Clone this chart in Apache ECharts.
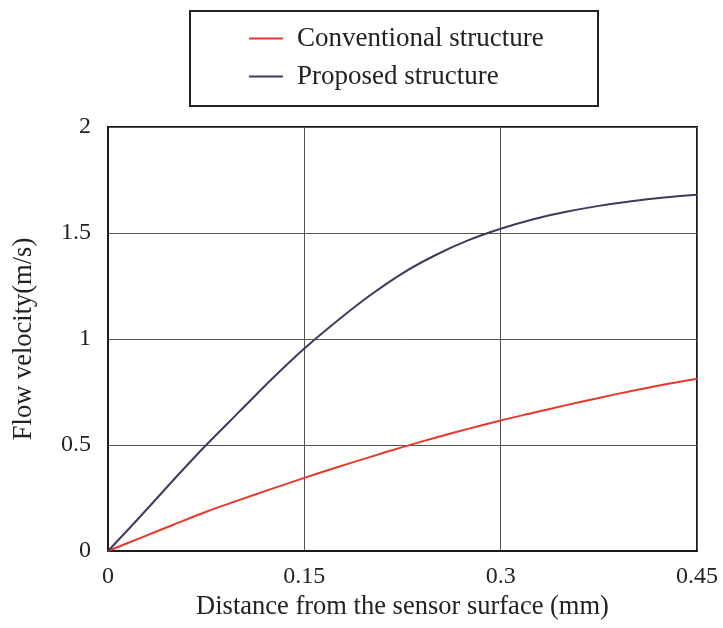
<!DOCTYPE html>
<html>
<head>
<meta charset="utf-8">
<script src="https://cdn.jsdelivr.net/npm/echarts@6/dist/echarts.min.js"></script>
<style>
html,body{margin:0;padding:0;background:#fff;}
#chart{width:723px;height:628px;}
</style>
</head>
<body>
<div id="chart"></div>
<script>
var distance = [0, 0.025, 0.05, 0.075, 0.1, 0.125, 0.15, 0.175, 0.2, 0.225, 0.25, 0.275, 0.3, 0.325, 0.35, 0.375, 0.4, 0.425, 0.45];
var conventional = [0, 0.062, 0.124, 0.185, 0.24, 0.293, 0.345, 0.395, 0.443, 0.49, 0.534, 0.576, 0.616, 0.652, 0.688, 0.722, 0.755, 0.785, 0.813];
var proposed = [0, 0.165, 0.335, 0.5, 0.655, 0.81, 0.955, 1.085, 1.205, 1.31, 1.395, 1.465, 1.52, 1.565, 1.6, 1.628, 1.65, 1.667, 1.68];
var seriesNames = ['Conventional structure', 'Proposed structure'];
var xTicks = [0, 0.15, 0.3, 0.45];
var yTicks = [0, 0.5, 1, 1.5, 2];
var xName = 'Distance from the sensor surface (mm)';
var yName = 'Flow velocity(m/s)';

function pairs(xs, ys){ return xs.map(function(x,i){ return [x, ys[i]]; }); }

var font = '"Liberation Serif","Times New Roman",serif';
var chart = echarts.init(document.getElementById('chart'));
chart.setOption({
  animation: false,
  backgroundColor: '#fff',
  textStyle: { fontFamily: font },
  graphic: [{
    type: 'rect',
    shape: { x: 190, y: 11, width: 408, height: 95 },
    style: { fill: 'none', stroke: '#222', lineWidth: 2 },
    z: 10
  }],
  legend: {
    orient: 'vertical',
    left: 249,
    top: 25,
    itemGap: 11,
    itemWidth: 34,
    itemHeight: 14,
    padding: 0,
    icon: 'path://M0,6 L34,6 L34,8 L0,8 Z',
    textStyle: { fontFamily: font, fontSize: 27, color: '#222', padding: [0, 0, 0, 9] },
    data: seriesNames
  },
  grid: {
    left: 108, right: 26, top: 127, bottom: 77,
    show: true, borderColor: '#1a1a1a', borderWidth: 2, containLabel: false
  },
  xAxis: {
    type: 'value',
    min: xTicks[0], max: xTicks[xTicks.length - 1], interval: xTicks[1] - xTicks[0],
    name: xName, nameLocation: 'middle', nameGap: 36,
    nameTextStyle: { fontFamily: font, fontSize: 26.5, color: '#222' },
    axisLine: { show: true, lineStyle: { color: '#1a1a1a', width: 2 } },
    axisTick: { show: false },
    axisLabel: { fontFamily: font, fontSize: 24, color: '#222', margin: 14,
      formatter: function(v){ return String(+v.toFixed(2)); } },
    splitLine: { show: true, lineStyle: { color: '#555', width: 1 } }
  },
  yAxis: {
    type: 'value',
    min: yTicks[0], max: yTicks[yTicks.length - 1], interval: yTicks[1] - yTicks[0],
    name: yName, nameLocation: 'middle', nameGap: 70,
    nameTextStyle: { fontFamily: font, fontSize: 26.5, color: '#222' },
    axisLine: { show: true, lineStyle: { color: '#1a1a1a', width: 2 } },
    axisTick: { show: false },
    axisLabel: { fontFamily: font, fontSize: 24, color: '#222', margin: 17,
      formatter: function(v){ return String(+v.toFixed(2)); } },
    splitLine: { show: true, lineStyle: { color: '#555', width: 1 } }
  },
  series: [{
    name: seriesNames[0], type: 'line', smooth: 0.3, showSymbol: false,
    data: pairs(distance, conventional),
    itemStyle: { color: '#e8382c' },
    lineStyle: { color: '#e8382c', width: 2 }
  }, {
    name: seriesNames[1], type: 'line', smooth: 0.3, showSymbol: false,
    data: pairs(distance, proposed),
    itemStyle: { color: '#3b3b5c' },
    lineStyle: { color: '#3b3b5c', width: 2 }
  }]
});
</script>
</body>
</html>
